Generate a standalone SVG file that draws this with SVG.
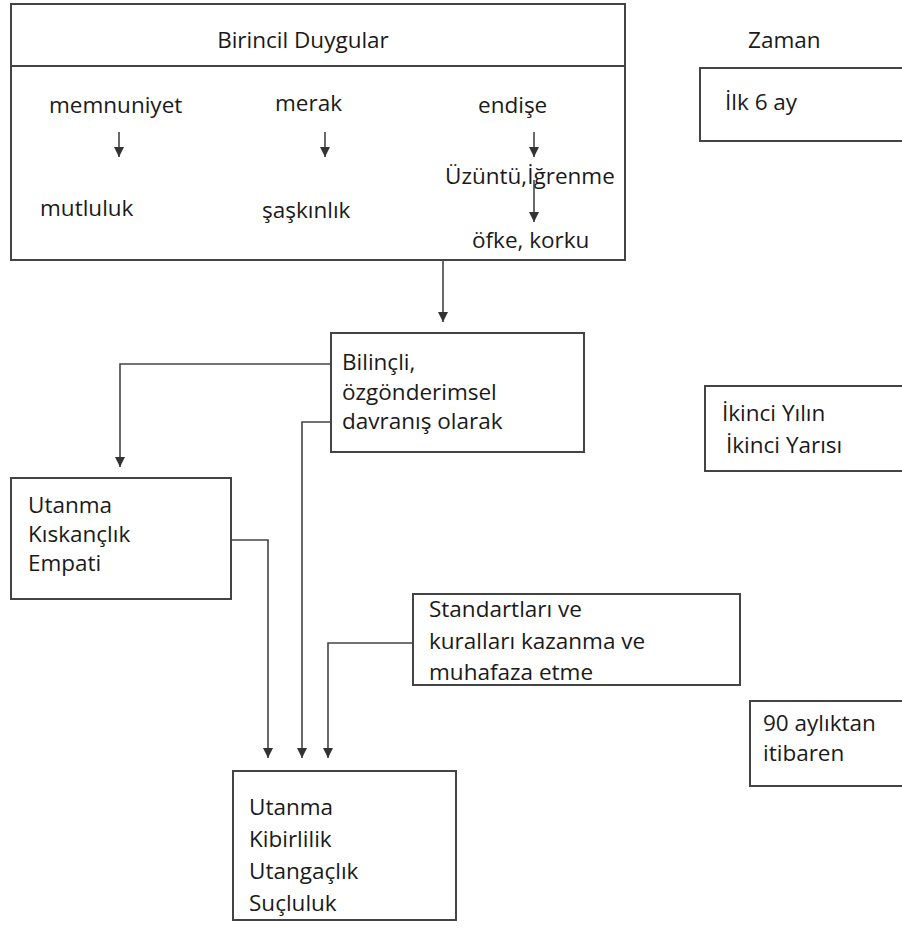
<svg xmlns="http://www.w3.org/2000/svg" width="902" height="934" viewBox="0 0 902 934">
<defs>
<marker id="ah" viewBox="0 0 10 10" refX="10" refY="5" markerWidth="10" markerHeight="10" markerUnits="userSpaceOnUse" orient="auto">
<path d="M0,0 L10,5 L0,10 z" fill="#333"/>
</marker>
</defs>
<style>
text{font-family:"Open Sans","Liberation Sans",sans-serif;font-size:22.5px;fill:#1a1a1a}
.box{fill:#fff;stroke:#444;stroke-width:2}
.arr{fill:none;stroke:#444;stroke-width:1.6;marker-end:url(#ah)}
</style>
<rect width="902" height="934" fill="#fff"/>
<g id="primary">
<rect class="box" x="11" y="4" width="614" height="256"/>
<line x1="11" y1="66" x2="625" y2="66" stroke="#444" stroke-width="2"/>
<text x="303" y="48" text-anchor="middle">Birincil Duygular</text>
<text x="49" y="113">memnuniyet</text>
<text x="275" y="111">merak</text>
<text x="478" y="113">endişe</text>
<text x="445" y="184">Üzüntü,İğrenme</text>
<text x="40" y="216">mutluluk</text>
<text x="262" y="218">şaşkınlık</text>
<text x="472" y="248">öfke, korku</text>
<line class="arr" x1="119" y1="132" x2="119" y2="157"/>
<line class="arr" x1="325" y1="132" x2="325" y2="157"/>
<line class="arr" x1="534" y1="132" x2="534" y2="157"/>
<line class="arr" x1="534" y1="180" x2="534" y2="222"/>
</g>
<g id="zaman">
<text x="748" y="48">Zaman</text>
</g>
<g id="ilk6ay">
<rect class="box" x="700" y="68" width="220" height="73"/>
<text x="725" y="110">İlk 6 ay</text>
</g>
<g id="bilincli">
<rect class="box" x="331" y="333" width="253" height="119"/>
<text x="342" y="370">Bilinçli,</text>
<text x="342" y="400">özgönderimsel</text>
<text x="342" y="429">davranış olarak</text>
</g>
<g id="ikinci">
<rect class="box" x="705" y="386" width="215" height="85"/>
<text x="722" y="421">İkinci Yılın</text>
<text x="726" y="453">İkinci Yarısı</text>
</g>
<g id="utanma1">
<rect class="box" x="11" y="478" width="220" height="121"/>
<text x="28" y="513">Utanma</text>
<text x="28" y="542">Kıskançlık</text>
<text x="28" y="571">Empati</text>
</g>
<g id="standart">
<rect class="box" x="413" y="594" width="327" height="91"/>
<text x="429" y="617">Standartları ve</text>
<text x="429" y="649">kuralları kazanma ve</text>
<text x="429" y="680">muhafaza etme</text>
</g>
<g id="aylik90">
<rect class="box" x="750" y="701" width="170" height="85"/>
<text x="763" y="731">90 aylıktan</text>
<text x="763" y="761">itibaren</text>
</g>
<g id="utanma2">
<rect class="box" x="233" y="771" width="223" height="149"/>
<text x="249" y="815">Utanma</text>
<text x="249" y="847">Kibirlilik</text>
<text x="249" y="879">Utangaçlık</text>
<text x="249" y="911">Suçluluk</text>
</g>
<g id="connectors">
<line class="arr" x1="443" y1="260" x2="443" y2="322"/>
<polyline class="arr" points="331,364 120,364 120,467"/>
<polyline class="arr" points="231,540 268,540 268,758"/>
<polyline class="arr" points="331,422 302,422 302,758"/>
<polyline class="arr" points="413,643 328,643 328,758"/>
</g>
</svg>
